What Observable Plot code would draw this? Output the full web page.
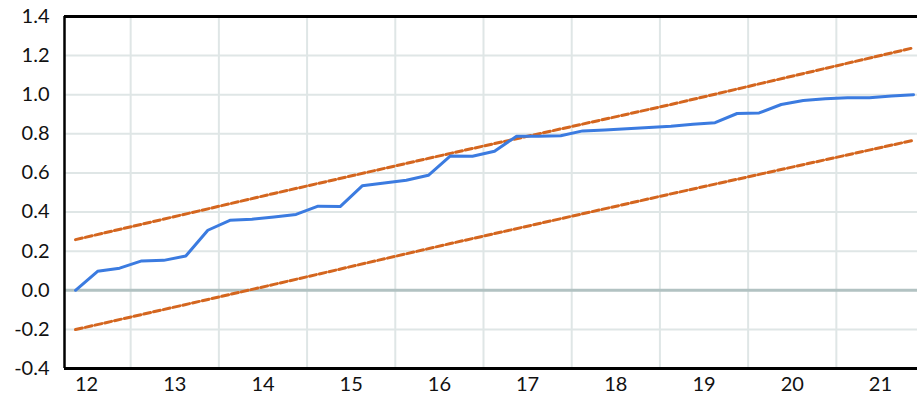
<!DOCTYPE html>
<html>
<head>
<meta charset="utf-8">
<script src="https://cdn.jsdelivr.net/npm/d3@7"></script>
<script src="https://cdn.jsdelivr.net/npm/@observablehq/plot@0.6"></script>
<style>
  html, body { margin: 0; padding: 0; background: #ffffff; }
  #chart { width: 917px; height: 400px; overflow: hidden; }
</style>
</head>
<body>
<div id="chart"></div>
<script>
// Quarterly observations 2012Q2 .. 2021Q4
const quarters = [
  "2012Q2","2012Q3","2012Q4",
  "2013Q1","2013Q2","2013Q3","2013Q4",
  "2014Q1","2014Q2","2014Q3","2014Q4",
  "2015Q1","2015Q2","2015Q3","2015Q4",
  "2016Q1","2016Q2","2016Q3","2016Q4",
  "2017Q1","2017Q2","2017Q3","2017Q4",
  "2018Q1","2018Q2","2018Q3","2018Q4",
  "2019Q1","2019Q2","2019Q3","2019Q4",
  "2020Q1","2020Q2","2020Q3","2020Q4",
  "2021Q1","2021Q2","2021Q3","2021Q4"
];
// CUSUM of squares (blue line)
const cusumSq = [
  0.000, 0.097, 0.113,
  0.150, 0.153, 0.175, 0.307,
  0.358, 0.363, 0.375, 0.388,
  0.430, 0.428, 0.534, 0.548,
  0.563, 0.588, 0.687, 0.685,
  0.711, 0.788, 0.788, 0.790,
  0.815, 0.820, 0.826, 0.832,
  0.839, 0.849, 0.857, 0.904,
  0.907, 0.950, 0.970, 0.980,
  0.984, 0.985, 0.994, 1.000
];
// 5% significance bounds (orange dashed lines), read at a few quarters
const boundQuarters = ["2012Q2","2014Q3","2016Q3","2019Q1","2021Q4"];
const upperBound = [0.259, 0.495, 0.700, 0.950, 1.240];
const lowerBound = [-0.201, 0.030, 0.239, 0.493, 0.767];

// Axis labels
const xTickLabels = ["12","13","14","15","16","17","18","19","20","21"];
const yTicks = [-0.4, -0.2, 0.0, 0.2, 0.4, 0.6, 0.8, 1.0, 1.2, 1.4];
const yGrid = [-0.2, 0.2, 0.4, 0.6, 0.8, 1.0, 1.2];
const yearBoundaries = [2013, 2014, 2015, 2016, 2017, 2018, 2019, 2020, 2021];

// quarter string -> position at the quarter's centre, in years
const qpos = s => +s.slice(0, 4) + (+s.slice(5) - 0.5) / 4;
const labelPos = l => 2000 + +l + 0.5;

const series = quarters.map((q, i) => ({x: qpos(q), y: cusumSq[i]}));
const upper = boundQuarters.map((q, i) => ({x: qpos(q), y: upperBound[i]}));
const lower = boundQuarters.map((q, i) => ({x: qpos(q), y: lowerBound[i]}));

const FRAME_LEFT = 2012.25;

const chart = Plot.plot({
  width: 917,
  height: 400,
  marginLeft: 64,
  marginRight: 0,
  marginTop: 16,
  marginBottom: 32,
  style: {fontFamily: "Lato, 'Open Sans', sans-serif", fontSize: "20px", background: "#ffffff", color: "#111"},
  x: {domain: [FRAME_LEFT, 2021.92], label: null},
  y: {domain: [-0.4, 1.4], label: null},
  marks: [
    Plot.ruleX(yearBoundaries, {x: d => d, stroke: "#dfe6e6", strokeWidth: 2}),
    Plot.ruleY(yGrid, {y: d => d, stroke: "#dfe6e6", strokeWidth: 2}),
    Plot.ruleY([0], {stroke: "#b2c2c2", strokeWidth: 3}),
    Plot.line(upper, {x: "x", y: "y", stroke: "#d4661f", strokeWidth: 3, strokeDasharray: "7,3"}),
    Plot.line(lower, {x: "x", y: "y", stroke: "#d4661f", strokeWidth: 3, strokeDasharray: "7,3"}),
    Plot.line(series, {x: "x", y: "y", stroke: "#3b7be0", strokeWidth: 3}),
    Plot.ruleY([1.4], {stroke: "#000", strokeWidth: 3}),
    Plot.ruleY([-0.4], {stroke: "#000", strokeWidth: 3}),
    Plot.ruleX([FRAME_LEFT], {stroke: "#000", strokeWidth: 2.5}),
    Plot.axisY(yTicks, {tickSize: 0, tickPadding: 15, tickFormat: d => d.toFixed(1), fontSize: 20}),
    Plot.axisX(xTickLabels.map(labelPos), {tickSize: 0, tickPadding: 8, tickFormat: d => String(Math.round(d - 0.5) - 2000), fontSize: 20})
  ]
});
document.getElementById("chart").appendChild(chart);
</script>
</body>
</html>
